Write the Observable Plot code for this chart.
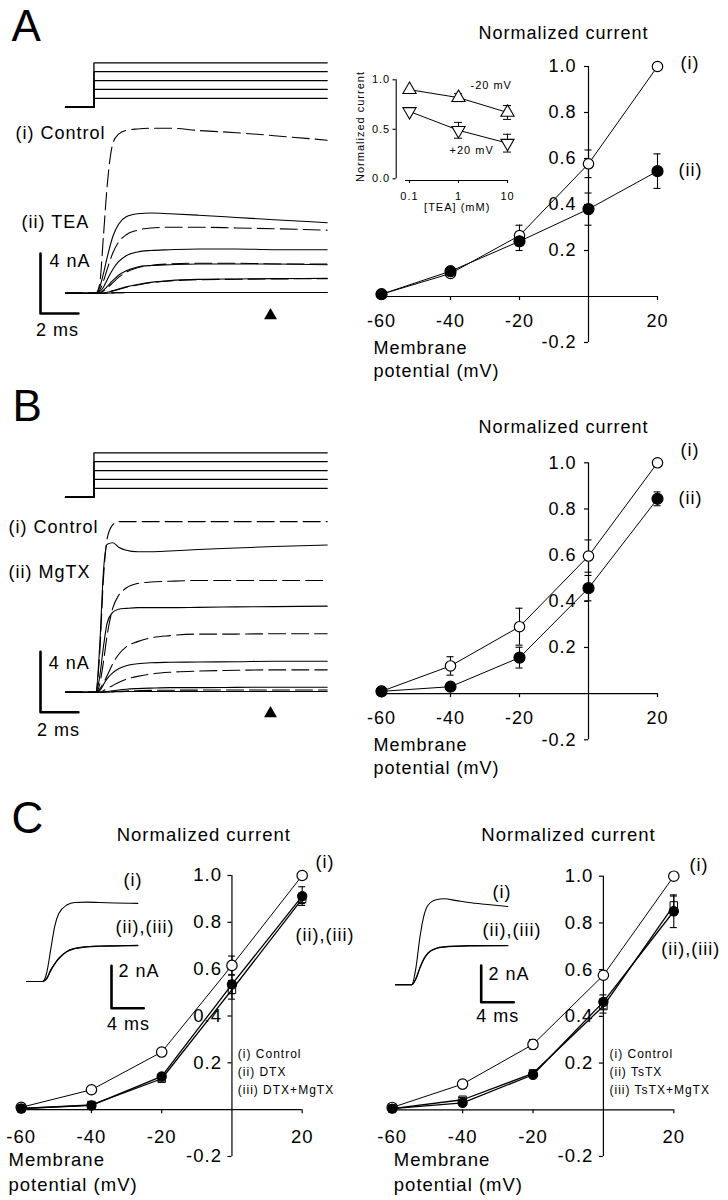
<!DOCTYPE html>
<html><head><meta charset="utf-8">
<script src="https://cdn.jsdelivr.net/npm/d3@7"></script>
<script src="https://cdn.jsdelivr.net/npm/@observablehq/plot@0.6"></script>
<style>
html,body{margin:0;padding:0;background:#fff;}
#fig{position:relative;width:728px;height:1200px;background:#fff;overflow:hidden;}
#fig svg{position:absolute;}
</style></head><body><div id="fig"></div>
<script>
// ---------------- DATA ----------------
// voltage protocol (mV, ms)
const stepLevels = [-60, -40, -20, 0, 20];
const holdingPotential = -80;
const stepOnset = 1.5;
const sweepEnd = 13.8;

// current traces, panel A (nA) sampled on traceTime
const traceTime = [0, 1.6, 1.8, 2.0, 2.2, 2.5, 2.8, 3.2, 3.8, 4.5, 5.5, 7, 9, 11, 13.8];
const aCtrl20 = [0, 0, 0.6, 3.8, 7.2, 10.0, 10.6, 10.85, 10.95, 11.0, 11.0, 10.85, 10.7, 10.5, 10.2];
const aCtrl0  = [0, 0, 0.2, 0.8, 1.6, 2.7, 3.4, 3.9, 4.2, 4.35, 4.4, 4.4, 4.35, 4.3, 4.2];
const aCtrlM20 = [0, 0, 0, 0.15, 0.35, 0.7, 1.05, 1.4, 1.7, 1.85, 1.95, 2.0, 2.0, 1.95, 1.95];
const aCtrlM40 = [0, 0, 0, 0, 0.05, 0.15, 0.25, 0.4, 0.55, 0.7, 0.82, 0.9, 0.93, 0.95, 0.97];
const aTEA20 = [0, 0, 0.4, 1.3, 2.4, 3.8, 4.6, 5.1, 5.3, 5.35, 5.3, 5.2, 5.05, 4.9, 4.7];
const aTEA0  = [0, 0, 0.1, 0.4, 0.9, 1.6, 2.1, 2.5, 2.75, 2.85, 2.9, 2.95, 2.95, 2.9, 2.9];
const aTEAM20 = [0, 0, 0, 0.2, 0.45, 0.85, 1.2, 1.5, 1.75, 1.85, 1.9, 1.95, 1.95, 1.95, 1.9];
const aTEAM40 = [0, 0, 0, 0, 0.06, 0.17, 0.28, 0.42, 0.58, 0.72, 0.84, 0.92, 0.95, 0.97, 0.99];
const aM60 = [0, 0, 0, 0, 0, 0.02, 0.03, 0.05, 0.05, 0.05, 0.05, 0.05, 0.05, 0.05, 0.05];

// current traces, panel B (nA)
const bCtrl20 = [0, 0, 2.5, 7.5, 10.2, 11.1, 11.3, 11.3, 11.3, 11.3, 11.3, 11.3, 11.3, 11.3, 11.3];
const bCtrl0  = [0, 0, 0.5, 2.0, 3.8, 5.6, 6.4, 6.9, 7.2, 7.3, 7.35, 7.4, 7.4, 7.4, 7.4];
const bCtrlM20 = [0, 0, 0.2, 0.6, 1.1, 1.9, 2.5, 3.0, 3.35, 3.6, 3.75, 3.85, 3.85, 3.87, 3.87];
const bCtrlM40 = [0, 0, 0, 0.1, 0.25, 0.45, 0.65, 0.85, 1.05, 1.2, 1.32, 1.4, 1.45, 1.48, 1.48];
const bCtrlM60 = [0, 0, 0, 0, 0.02, 0.04, 0.06, 0.08, 0.1, 0.12, 0.13, 0.14, 0.15, 0.15, 0.15];
const bMgTX20 = [0, 0, 3.0, 8.0, 9.8, 9.9, 9.6, 9.4, 9.3, 9.3, 9.35, 9.45, 9.55, 9.65, 9.75];
const bMgTX0  = [0, 0, 1.0, 3.0, 4.6, 5.3, 5.5, 5.55, 5.6, 5.6, 5.6, 5.62, 5.65, 5.67, 5.7];
const bMgTXM20 = [0, 0, 0.1, 0.5, 0.9, 1.3, 1.55, 1.75, 1.88, 1.95, 1.98, 2.0, 2.02, 2.05, 2.05];
const bMgTXM40 = [0, 0, 0, 0.02, 0.05, 0.1, 0.15, 0.2, 0.24, 0.27, 0.3, 0.3, 0.32, 0.33, 0.33];

// panel C inset traces (nA)
const insetTime = [0, 2.0, 2.5, 3.0, 3.5, 4.0, 5.0, 6.0, 7.5, 9, 11, 13.8];
const cdCtrl = [0, 0, 0.4, 1.5, 2.6, 3.2, 3.6, 3.72, 3.74, 3.72, 3.7, 3.68];
const cdDTX  = [0, 0, 0.15, 0.55, 0.85, 1.1, 1.42, 1.56, 1.64, 1.67, 1.68, 1.7];
const cdDTXMg = [0, 0, 0.12, 0.5, 0.82, 1.07, 1.4, 1.55, 1.63, 1.66, 1.68, 1.69];
const ctCtrl = [0, 0, 0.9, 2.6, 3.8, 4.35, 4.65, 4.7, 4.6, 4.5, 4.4, 4.28];
const ctTsTX = [0, 0, 0.35, 0.95, 1.45, 1.75, 2.0, 2.08, 2.12, 2.14, 2.15, 2.15];
const ctTsTXMg = [0, 0, 0.3, 0.9, 1.4, 1.72, 1.98, 2.06, 2.1, 2.12, 2.13, 2.14];

// scale bars
const barA = {ms: 2, nA: 4};
const barC = {ms: 4, nA: 2};

// I-V relations (normalized current)
const potentials = [-60, -40, -20, 0, 20];
const aControl = [0.01, 0.10, 0.265, 0.577, 1.0];
const aControlErr = [0, 0.01, 0.045, 0.06, 0];
const aTEA = [0.01, 0.11, 0.24, 0.38, 0.545];
const aTEAErr = [0, 0.01, 0.04, 0.07, 0.075];
const bControl = [0.01, 0.12, 0.29, 0.596, 1.0];
const bControlErr = [0, 0.04, 0.08, 0.07, 0];
const bMgTX = [0.01, 0.03, 0.156, 0.457, 0.844];
const bMgTXErr = [0, 0.01, 0.045, 0.055, 0.03];
const cdControl = [0.01, 0.085, 0.246, 0.616, 1.0];
const cdControlErr = [0, 0.005, 0.01, 0.04, 0];
const cdDTXiv = [0.005, 0.018, 0.142, 0.535, 0.912];
const cdDTXErr = [0, 0.005, 0.01, 0.04, 0.04];
const cdDTXMgiv = [0.005, 0.02, 0.132, 0.512, 0.90];
const cdDTXMgErr = [0, 0.005, 0.01, 0.04, 0.02];
const ctControl = [0.01, 0.11, 0.28, 0.576, 1.0];
const ctControlErr = [0, 0.005, 0.02, 0.01, 0];
const ctTsTXiv = [0.005, 0.03, 0.15, 0.462, 0.85];
const ctTsTXErr = [0, 0.01, 0.01, 0.03, 0.07];
const ctTsTXMgiv = [0.005, 0.043, 0.156, 0.444, 0.875];
const ctTsTXMgErr = [0, 0.01, 0.01, 0.03, 0.04];

// TEA dose dependence (inset of A)
const teaConc = [0.1, 1, 10];
const teaMinus20 = [0.9, 0.82, 0.67];
const teaMinus20Err = [0, 0.04, 0.07];
const teaPlus20 = [0.68, 0.49, 0.36];
const teaPlus20Err = [0, 0.08, 0.09];

// ticks
const ivXDomain = [-60, 20];
const ivYDomain = [-0.2, 1.0];
const ivXTicks = [-60, -40, -20, 20];
const ivXTickLabels = ["-60", "-40", "-20", "20"];
const ivYTicks = [-0.2, 0.2, 0.4, 0.6, 0.8, 1.0];
const ivYTickLabels = ["-0.2", "0.2", "0.4", "0.6", "0.8", "1.0"];
const teaYTicks = [0, 0.5, 1.0];
const teaYTickLabels = ["0.0", "0.5", "1.0"];
const teaXTickLabels = ["0.1", "1", "10"];

// ---------------- HELPERS ----------------
const FONT = "'Liberation Sans', Arial, Helvetica, sans-serif";
const STYLE = `font-family:${FONT};font-size:18px;letter-spacing:1px;background:none;overflow:visible;color:black;`;
const fig = document.getElementById("fig");
function place(svg, left, top) { svg.style.left = left + "px"; svg.style.top = top + "px"; fig.appendChild(svg); }

function lbl(t) {
  return Plot.text([t.text], {
    text: d => d, frameAnchor: "top-left", dx: t.x, dy: t.y,
    textAnchor: t.anchor || "start", lineAnchor: "middle",
    fontSize: t.fs || 18, rotate: t.rotate || 0, fill: "black"
  });
}

const triangleDown = {
  draw(context, size) {
    const y = Math.sqrt(size / (Math.sqrt(3) * 3));
    context.moveTo(0, y * 2);
    context.lineTo(-Math.sqrt(3) * y, -y);
    context.lineTo(Math.sqrt(3) * y, -y);
    context.closePath();
  }
};

function ivPlot(o) {
  const xs = d3.scaleLinear().domain(ivXDomain).range(o.xRange);
  const ys = d3.scaleLinear().domain(ivYDomain).range(o.yRange);
  const mvPx = px => xs.invert(o.xRange[0] + px) - ivXDomain[0];
  const unPx = px => ys.invert(o.yRange[0] - px) - ivYDomain[0];
  const fs = o.fs || 18;
  const marks = [
    Plot.ruleY([0], {x1: ivXDomain[0], x2: ivXDomain[1], strokeWidth: 1.2}),
    Plot.ruleX([0], {y1: ivYDomain[0], y2: ivYDomain[1], strokeWidth: 1.2}),
    Plot.ruleX(ivXTicks, {x: d => d, y1: 0, y2: -unPx(4), strokeWidth: 1.2}),
    Plot.ruleY(ivYTicks, {y: d => d, x1: -mvPx(4), x2: 0, strokeWidth: 1.2}),
    Plot.text(ivXTicks, {x: d => d, y: 0, text: (d, i) => ivXTickLabels[i], dy: o.xLabelDy, fontSize: fs, fill: "black"}),
    Plot.text(ivYTicks, {x: 0, y: d => d, text: (d, i) => ivYTickLabels[i], textAnchor: "end", dx: -o.yLabelGap, fontSize: fs, fill: "black"})
  ];
  const sets = o.series.map(s => potentials.map((x, i) => ({x, y: s.values[i], e: s.err[i]})));
  o.series.forEach((s, k) => marks.push(Plot.line(sets[k], {x: "x", y: "y", stroke: "black", strokeWidth: s.lw || 1})));
  const cap = mvPx(3.5);
  o.series.forEach((s, k) => {
    const ed = sets[k].filter(d => d.e > 0);
    marks.push(Plot.ruleX(ed, {x: "x", y1: d => d.y - d.e, y2: d => d.y + d.e, strokeWidth: 1.1}));
    marks.push(Plot.ruleY(ed, {y: d => d.y + d.e, x1: d => d.x - cap, x2: d => d.x + cap, strokeWidth: 1.1}));
    marks.push(Plot.ruleY(ed, {y: d => d.y - d.e, x1: d => d.x - cap, x2: d => d.x + cap, strokeWidth: 1.1}));
  });
  o.series.forEach((s, k) => marks.push(Plot.dot(sets[k], {x: "x", y: "y", r: s.r, symbol: s.symbol || "circle", fill: s.fill, stroke: "black", strokeWidth: s.sw || 1.2})));
  o.texts.forEach(t => marks.push(lbl(t)));
  return Plot.plot({
    width: o.width, height: o.height, margin: 0, style: STYLE,
    x: {type: "linear", domain: ivXDomain, range: o.xRange, axis: null},
    y: {type: "linear", domain: ivYDomain, range: o.yRange, axis: null},
    marks
  });
}

function tracePlot(o) {
  const xs = d3.scaleLinear().domain(o.xDomain).range(o.xRange);
  const ys = d3.scaleLinear().domain(o.yDomain).range(o.yRange);
  const marks = [];
  o.traces.forEach(tr => {
    const data = tr.t.map((t, i) => ({t, v: tr.v[i]}));
    marks.push(Plot.line(data, {x: "t", y: "v", curve: tr.curve || "monotone-x", stroke: "black",
      strokeWidth: tr.lw || 1.1, strokeDasharray: tr.dashed ? "17,6" : null}));
  });
  if (o.bar) {
    const t0 = xs.invert(o.bar.px), v0 = ys.invert(o.bar.py);
    marks.push(Plot.line([{t: t0, v: v0 + o.bar.dv}, {t: t0, v: v0}, {t: t0 + o.bar.dt, v: v0}],
      {x: "t", y: "v", stroke: "black", strokeWidth: 2.6}));
  }
  if (o.marker) {
    marks.push(Plot.dot([0], {frameAnchor: "top-left", dx: o.marker.x, dy: o.marker.y, symbol: "triangle", r: 4.8, fill: "black"}));
  }
  (o.texts || []).forEach(t => marks.push(lbl(t)));
  return Plot.plot({
    width: o.width, height: o.height, margin: 0, style: STYLE,
    x: {type: "linear", domain: o.xDomain, range: o.xRange, axis: null},
    y: {type: "linear", domain: o.yDomain, range: o.yRange, axis: null},
    marks
  });
}

function protocolTraces() {
  return stepLevels.map(level => ({
    t: [0, stepOnset, stepOnset, sweepEnd],
    v: [holdingPotential, holdingPotential, level, level],
    curve: "linear", lw: 1.3
  }));
}

// ---------------- PANEL A ----------------
place(tracePlot({
  width: 340, height: 125, xDomain: [0, sweepEnd], xRange: [65, 326.7],
  yDomain: [holdingPotential, 20], yRange: [106.7, 62.3],
  traces: protocolTraces(),
  texts: [{text: "A", x: 11, y: 26, fs: 44}]
}), 0, 0);

place(tracePlot({
  width: 340, height: 250, xDomain: [0, sweepEnd], xRange: [65, 326.7],
  yDomain: [0, 11], yRange: [182.7, 17.7],
  traces: [
    {t: traceTime, v: aM60}, {t: traceTime, v: aM60, dashed: true},
    {t: traceTime, v: aCtrlM40, dashed: true}, {t: traceTime, v: aTEAM40},
    {t: traceTime, v: aCtrlM20, dashed: true}, {t: traceTime, v: aTEAM20},
    {t: traceTime, v: aCtrl0, dashed: true}, {t: traceTime, v: aTEA0},
    {t: traceTime, v: aCtrl20, dashed: true}, {t: traceTime, v: aTEA20}
  ],
  bar: {px: 40, py: 203, dt: barA.ms, dv: barA.nA},
  marker: {x: 270, y: 205},
  texts: [
    {text: "(i) Control", x: 15, y: 23},
    {text: "(ii) TEA", x: 21, y: 111.7},
    {text: "4 nA", x: 49, y: 151},
    {text: "2 ms", x: 57, y: 220, anchor: "middle"}
  ]
}), 0, 110);

place(ivPlot({
  width: 388, height: 380, xRange: [41, 317], yRange: [342, 66], xLabelDy: 25, yLabelGap: 12,
  series: [
    {values: aControl, err: aControlErr, fill: "white", r: 5.2},
    {values: aTEA, err: aTEAErr, fill: "black", r: 5.5}
  ],
  texts: [
    {text: "Normalized current", x: 223, y: 33, anchor: "middle"},
    {text: "(i)", x: 340, y: 63},
    {text: "(ii)", x: 338, y: 170},
    {text: "Membrane", x: 33, y: 348},
    {text: "potential (mV)", x: 33, y: 371}
  ]
}), 340, 0);

// inset: TEA dose dependence
(function () {
  const xr = [59, 157], yr = [128.3, 29.3];
  const xs = d3.scaleLog().domain([0.1, 10]).range(xr);
  const ys = d3.scaleLinear().domain([0, 1]).range(yr);
  const yAxisX = xs.invert(45.7), yTickX1 = xs.invert(42.5);
  const xAxisY = ys.invert(130), xTickY2 = ys.invert(133);
  const dm = teaConc.map((x, i) => ({x, y: teaMinus20[i], e: teaMinus20Err[i]}));
  const dp = teaConc.map((x, i) => ({x, y: teaPlus20[i], e: teaPlus20Err[i]}));
  const capL = d => xs.invert(xs(d.x) - 4), capR = d => xs.invert(xs(d.x) + 4);
  const err = data => {
    const ed = data.filter(d => d.e > 0);
    return [
      Plot.ruleX(ed, {x: "x", y1: d => d.y - d.e, y2: d => d.y + d.e, strokeWidth: 1}),
      Plot.ruleY(ed, {y: d => d.y + d.e, x1: capL, x2: capR, strokeWidth: 1}),
      Plot.ruleY(ed, {y: d => d.y - d.e, x1: capL, x2: capR, strokeWidth: 1})
    ];
  };
  place(Plot.plot({
    width: 180, height: 175, margin: 0, style: STYLE,
    x: {type: "log", domain: [0.1, 10], range: xr, axis: null},
    y: {type: "linear", domain: [0, 1], range: yr, axis: null},
    marks: [
      Plot.ruleX([yAxisX], {y1: 0, y2: 1, strokeWidth: 1.1}),
      Plot.ruleY(teaYTicks, {y: d => d, x1: yTickX1, x2: yAxisX, strokeWidth: 1.1}),
      Plot.text(teaYTicks, {x: yAxisX, y: d => d, text: (d, i) => teaYTickLabels[i], textAnchor: "end", dx: -6, fontSize: 11, fill: "black"}),
      Plot.ruleY([xAxisY], {x1: xs.invert(55), x2: xs.invert(158), strokeWidth: 1.1}),
      Plot.ruleX(teaConc, {x: d => d, y1: xAxisY, y2: xTickY2, strokeWidth: 1.1}),
      Plot.text(teaConc, {x: d => d, y: xAxisY, text: (d, i) => teaXTickLabels[i], dy: 15.5, fontSize: 11, fill: "black"}),
      Plot.line(dm, {x: "x", y: "y", stroke: "black", strokeWidth: 1}),
      Plot.line(dp, {x: "x", y: "y", stroke: "black", strokeWidth: 1}),
      ...err(dm), ...err(dp),
      Plot.dot(dm, {x: "x", y: "y", symbol: "triangle", r: 4.9, fill: "white", stroke: "black", strokeWidth: 1.1}),
      Plot.dot(dp, {x: "x", y: "y", symbol: triangleDown, r: 4.9, fill: "white", stroke: "black", strokeWidth: 1.1}),
      lbl({text: "-20 mV", x: 120, y: 34.5, fs: 11}),
      lbl({text: "+20 mV", x: 99, y: 99.5, fs: 11}),
      lbl({text: "[TEA] (mM)", x: 106.7, y: 156.5, fs: 11, anchor: "middle"}),
      lbl({text: "Normalized current", x: 10, y: 76, fs: 11, anchor: "middle", rotate: -90})
    ]
  }), 350, 50);
})();

// ---------------- PANEL B ----------------
place(tracePlot({
  width: 340, height: 130, xDomain: [0, sweepEnd], xRange: [65, 326.7],
  yDomain: [holdingPotential, 20], yRange: [116.7, 72.3],
  traces: protocolTraces(),
  texts: [{text: "B", x: 12, y: 26, fs: 44}]
}), 0, 380);

place(tracePlot({
  width: 340, height: 270, xDomain: [0, sweepEnd], xRange: [65, 326.7],
  yDomain: [0, 11.3], yRange: [211.7, 41.1],
  traces: [
    {t: traceTime, v: aM60}, {t: traceTime, v: bCtrlM60, dashed: true},
    {t: traceTime, v: bMgTXM40},
    {t: traceTime, v: bCtrlM40, dashed: true}, {t: traceTime, v: bMgTXM20},
    {t: traceTime, v: bCtrlM20, dashed: true}, {t: traceTime, v: bMgTX0},
    {t: traceTime, v: bCtrl0, dashed: true}, {t: traceTime, v: bMgTX20},
    {t: traceTime, v: bCtrl20, dashed: true}
  ],
  bar: {px: 40, py: 231.7, dt: barA.ms, dv: barA.nA},
  marker: {x: 270, y: 233},
  texts: [
    {text: "(i) Control", x: 8, y: 46.7},
    {text: "(ii) MgTX", x: 8, y: 91.7},
    {text: "4 nA", x: 48.3, y: 182.7},
    {text: "2 ms", x: 58, y: 249.3, anchor: "middle"}
  ]
}), 0, 480);

place(ivPlot({
  width: 388, height: 400, xRange: [41, 317], yRange: [359.3, 82.3], xLabelDy: 25, yLabelGap: 12,
  series: [
    {values: bControl, err: bControlErr, fill: "white", r: 5.2},
    {values: bMgTX, err: bMgTXErr, fill: "black", r: 5.5}
  ],
  texts: [
    {text: "Normalized current", x: 223, y: 47, anchor: "middle"},
    {text: "(i)", x: 340, y: 70},
    {text: "(ii)", x: 338, y: 118},
    {text: "Membrane", x: 33, y: 365},
    {text: "potential (mV)", x: 33, y: 388}
  ]
}), 340, 380);

// ---------------- PANEL C ----------------
function legendTexts(x, names) {
  return names.map((n, i) => ({text: n, x, y: 273.3 + i * 18.3, fs: 12}));
}
place(ivPlot({
  width: 364, height: 420, xRange: [20.7, 301.7], yRange: [376, 95], xLabelDy: 27, yLabelGap: 10, fs: 18.5,
  series: [
    {values: cdControl, err: cdControlErr, fill: "white", r: 5.2},
    {values: cdDTXiv, err: cdDTXErr, fill: "black", r: 4.6, lw: 1.3},
    {values: cdDTXMgiv, err: cdDTXMgErr, fill: "none", r: 4.2, symbol: "square", lw: 1.3, sw: 1}
  ],
  texts: [
    {text: "C", x: 11, y: 38, fs: 44},
    {text: "Normalized current", x: 203.3, y: 55, anchor: "middle", fs: 18.5},
    {text: "(i)", x: 315, y: 81.7},
    {text: "(ii),(iii)", x: 295, y: 155},
    ...legendTexts(237.3, ["(i) Control", "(ii) DTX", "(iii) DTX+MgTX"]),
    {text: "Membrane", x: 8, y: 380, fs: 18.5},
    {text: "potential (mV)", x: 8, y: 405, fs: 18.5}
  ]
}), 0, 780);

place(tracePlot({
  width: 200, height: 180, xDomain: [0, sweepEnd], xRange: [26, 137.3],
  yDomain: [0, 3.66], yRange: [121, 43.3],
  traces: [
    {t: insetTime, v: cdDTXMg, lw: 1.1}, {t: insetTime, v: cdDTX, lw: 1.1},
    {t: insetTime, v: cdCtrl, lw: 1.1}
  ],
  bar: {px: 111, py: 147.7, dt: barC.ms, dv: barC.nA},
  texts: [
    {text: "(i)", x: 123, y: 20},
    {text: "(ii),(iii)", x: 115, y: 66.7},
    {text: "2 nA", x: 118, y: 110.7},
    {text: "4 ms", x: 128, y: 163.3, anchor: "middle"}
  ]
}), 0, 860);

place(ivPlot({
  width: 364, height: 420, xRange: [27.7, 309.3], yRange: [376, 95.7], xLabelDy: 27, yLabelGap: 10, fs: 18.5,
  series: [
    {values: ctControl, err: ctControlErr, fill: "white", r: 5.2},
    {values: ctTsTXiv, err: ctTsTXErr, fill: "black", r: 4.6, lw: 1.3},
    {values: ctTsTXMgiv, err: ctTsTXMgErr, fill: "none", r: 4.2, symbol: "square", lw: 1.3, sw: 1}
  ],
  texts: [
    {text: "Normalized current", x: 204, y: 55, anchor: "middle", fs: 18.5},
    {text: "(i)", x: 325, y: 85},
    {text: "(ii),(iii)", x: 296.7, y: 168.3},
    ...legendTexts(245, ["(i) Control", "(ii) TsTX", "(iii) TsTX+MgTX"]),
    {text: "Membrane", x: 29.3, y: 380, fs: 18.5},
    {text: "potential (mV)", x: 29.3, y: 405, fs: 18.5}
  ]
}), 364, 780);

place(tracePlot({
  width: 200, height: 180, xDomain: [0, sweepEnd], xRange: [31, 143.3],
  yDomain: [0, 4.7], yRange: [124.3, 38.3],
  traces: [
    {t: insetTime, v: ctTsTXMg, lw: 1.1}, {t: insetTime, v: ctTsTX, lw: 1.1},
    {t: insetTime, v: ctCtrl, lw: 1.1}
  ],
  bar: {px: 116.7, py: 141.7, dt: barC.ms, dv: barC.nA},
  texts: [
    {text: "(i)", x: 128, y: 31.7},
    {text: "(ii),(iii)", x: 118, y: 70},
    {text: "2 nA", x: 124, y: 113.3},
    {text: "4 ms", x: 133.3, y: 156, anchor: "middle"}
  ]
}), 364, 860);
</script>
</body></html>
